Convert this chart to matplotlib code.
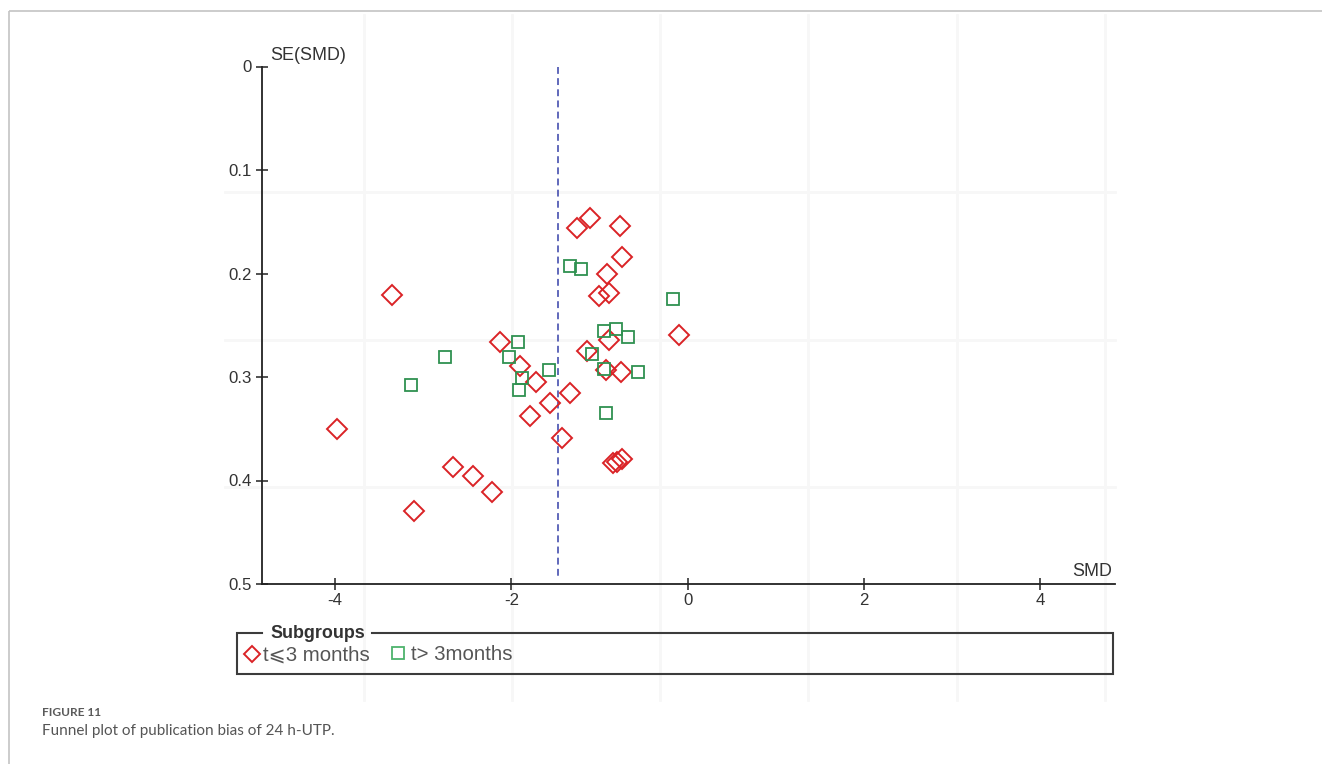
import matplotlib
matplotlib.use("Agg")
import matplotlib.pyplot as plt
from matplotlib import font_manager

# Funnel plot data: standardised mean difference (SMD) and its standard error
smd_short = [-1.11, -1.26, -0.77, -0.74, -3.35, -0.91, -1.01, -0.89, -0.10, -2.13,
             -0.89, -1.14, -1.90, -0.93, -0.76, -1.72, -1.33, -1.56, -1.79, -3.98,
             -1.43, -0.85, -0.80, -0.75, -2.66, -2.44, -2.22, -3.10]
se_short = [0.146, 0.156, 0.154, 0.184, 0.221, 0.200, 0.222, 0.219, 0.259, 0.266,
            0.264, 0.275, 0.289, 0.293, 0.295, 0.305, 0.315, 0.325, 0.338, 0.350,
            0.359, 0.383, 0.382, 0.379, 0.387, 0.396, 0.411, 0.429]
smd_long = [-1.33, -1.21, -0.17, -0.95, -0.81, -0.68, -1.93, -2.75, -2.03, -1.09,
            -1.57, -0.95, -0.56, -1.88, -1.91, -3.14, -0.93]
se_long = [0.193, 0.196, 0.225, 0.256, 0.254, 0.261, 0.266, 0.281, 0.281, 0.278,
           0.293, 0.292, 0.295, 0.301, 0.313, 0.308, 0.335]
pooled_smd = -1.47

x_ticks = [-4, -2, 0, 2, 4]
x_tick_labels = ["-4", "-2", "0", "2", "4"]
y_ticks = [0, 0.1, 0.2, 0.3, 0.4, 0.5]
y_tick_labels = ["0", "0.1", "0.2", "0.3", "0.4", "0.5"]

label_short = "t\u2a7d3 months"
label_long = "t> 3months"
legend_title = "Subgroups"

RED = "#da2326"
GREEN = "#2f9150"
GREEN_LIGHT = "#4db36c"

# Prefer a narrow sans face for the axis text; fall back to a regular one at a
# slightly smaller size so the label widths stay about the same.
installed = {f.name for f in font_manager.fontManager.ttflist}
if "Liberation Sans Narrow" in installed:
    NARROW, k = ["Liberation Sans Narrow", "DejaVu Sans"], 1.0
elif "DejaVu Sans Condensed" in installed:
    NARROW, k = ["DejaVu Sans Condensed", "DejaVu Sans"], 0.92
else:
    NARROW, k = ["Liberation Sans", "DejaVu Sans"], 0.86

plt.rcParams["axes.unicode_minus"] = False

W, H = 1322, 764
fig = plt.figure(figsize=(W / 100, H / 100), dpi=100)
fig.patch.set_facecolor("white")

# Full-figure overlay in pixel coordinates (y grows downwards)
bg = fig.add_axes([0, 0, 1, 1], zorder=0)
bg.set_xlim(0, W)
bg.set_ylim(H, 0)
bg.axis("off")

# page frame
bg.plot([9, 9], [11, H], color="#c4c4c4", lw=1.2, solid_capstyle="butt")
bg.plot([9, W], [11, 11], color="#c4c4c4", lw=1.2, solid_capstyle="butt")

# faint panel lattice behind the plot
for gx in [364, 512, 660, 808, 957, 1105]:
    bg.plot([gx, gx], [15, 700], color="#f7f7f7", lw=2.0, zorder=0)
for gy in [192, 340, 487]:
    bg.plot([225, 1115], [gy, gy], color="#f7f7f7", lw=2.0, zorder=0)

# Main funnel axes
left, right, top, bottom = 262, 1115, 66.5, 584
ax = fig.add_axes([left / W, 1 - bottom / H, (right - left) / W, (bottom - top) / H], zorder=2)
ax.set_facecolor("none")
ax.set_xlim(-4.83, 4.85)
ax.set_ylim(0.5, 0.0)

for side in ["top", "right"]:
    ax.spines[side].set_visible(False)
for side in ["left", "bottom"]:
    ax.spines[side].set_color("#222222")
    ax.spines[side].set_linewidth(1.3)

ax.set_xticks(x_ticks)
ax.set_xticklabels(x_tick_labels)
ax.set_yticks(y_ticks)
ax.set_yticklabels(y_tick_labels)
ax.tick_params(axis="both", direction="inout", length=9, width=1.1, color="#222222",
               labelsize=14 * k, labelcolor="#333333")
ax.tick_params(axis="y", pad=3)
ax.tick_params(axis="x", pad=2)
for lab in ax.get_xticklabels() + ax.get_yticklabels():
    lab.set_family(NARROW)

# pooled estimate
ax.plot([pooled_smd, pooled_smd], [0.0, 0.495], color="#3640a8", lw=1.1,
        dashes=(4.5, 2.8), zorder=1)

ax.plot(smd_short, se_short, linestyle="none", marker="D", ms=9.8, mfc="none",
        mec=RED, mew=1.4, zorder=3, clip_on=False)
ax.plot(smd_long, se_long, linestyle="none", marker="s", ms=9.2, mfc="none",
        mec=GREEN, mew=1.3, zorder=3, clip_on=False)

fig.text(270 / W, 1 - 55 / H, "SE(SMD)", ha="left", va="center", fontsize=15 * k,
         family=NARROW, color="#333333")
fig.text(1112 / W, 1 - 571 / H, "SMD", ha="right", va="center", fontsize=15 * k,
         family=NARROW, color="#333333")

# Subgroup legend box
lg = fig.add_axes([0, 0, 1, 1], zorder=3)
lg.set_xlim(0, W)
lg.set_ylim(H, 0)
lg.axis("off")
box_c = "#3c3c3c"
lg.plot([262, 237, 237, 1113, 1113, 372], [633, 633, 674, 674, 633, 633],
        color=box_c, lw=1.5, solid_joinstyle="miter")
lg.text(270, 634, legend_title, ha="left", va="center", fontsize=15 * k,
        fontweight="bold", family=NARROW, color="#333333")
lg.plot([252], [654], marker="D", ms=8.6, mfc="none", mec=RED, mew=1.4)
lg.text(263, 655, label_short, ha="left", va="center", fontsize=15 * min(1.0, k + 0.12),
        family=NARROW, color="#555555")
lg.plot([398], [653], marker="s", ms=9.2, mfc="none", mec=GREEN_LIGHT, mew=1.3)
lg.text(411, 655, label_long, ha="left", va="center", fontsize=15 * min(1.0, k + 0.12),
        family=NARROW, color="#555555")

# Caption
fig.text(42 / W, 1 - 713 / H, "FIGURE 11", ha="left", va="center", fontsize=8.6,
         fontweight="bold", family="Lato", color="#5a5a5a")
fig.text(42 / W, 1 - 731 / H, "Funnel plot of publication bias of 24 h-UTP.",
         ha="left", va="center", fontsize=11.0, family="Lato", color="#555555")

fig.savefig("out.png", dpi=100, facecolor="white")
